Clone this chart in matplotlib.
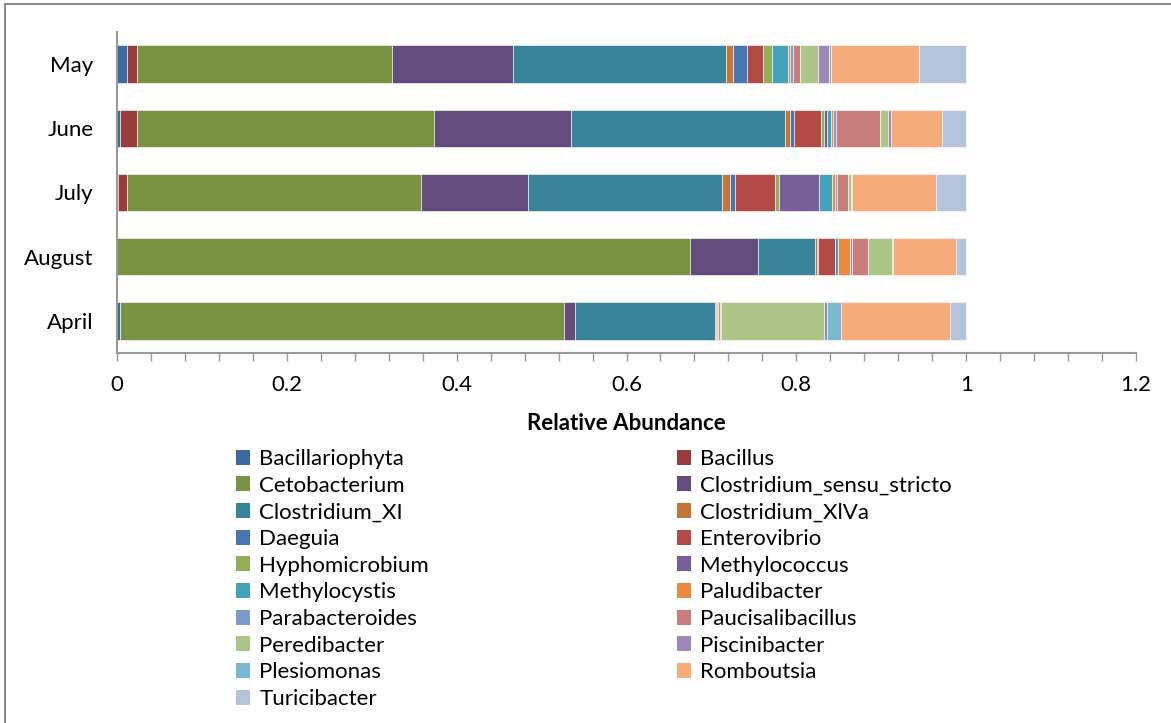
import matplotlib
matplotlib.use("Agg")
import matplotlib.pyplot as plt
import numpy as np
from matplotlib.patches import Patch, Rectangle
from matplotlib.ticker import MultipleLocator

plt.rcParams['font.family'] = ['Lato', 'DejaVu Sans']

# categories, bottom to top as drawn
months = ["April", "August", "July", "June", "May"]

genera = ["Bacillariophyta", "Bacillus", "Cetobacterium", "Clostridium_sensu_stricto",
          "Clostridium_XI", "Clostridium_XlVa", "Daeguia", "Enterovibrio",
          "Hyphomicrobium", "Methylococcus", "Methylocystis", "Paludibacter",
          "Parabacteroides", "Paucisalibacillus", "Peredibacter", "Piscinibacter",
          "Plesiomonas", "Romboutsia", "Turicibacter"]

colors = ["#3A6A9E", "#9A3C3C", "#7A9244", "#644C7D", "#38849A", "#C57634",
          "#4876B2", "#B24B48", "#92AF55", "#775E98", "#46A2BA", "#E8893D",
          "#7E9ACB", "#C97E7C", "#ADC687", "#9C89B6", "#7BB9D0", "#F7AB7A",
          "#B5C3DC"]

# relative abundance per genus (same order as genera)
april = [0.004, 0.0, 0.522, 0.013, 0.165, 0.001, 0.002, 0.001, 0.0, 0.0,
         0.0, 0.002, 0.001, 0.0, 0.122, 0.003, 0.017, 0.128, 0.019]
august = [0.0, 0.0, 0.675, 0.080, 0.067, 0.002, 0.002, 0.020, 0.0, 0.0,
          0.003, 0.014, 0.002, 0.019, 0.029, 0.0, 0.001, 0.074, 0.012]
july = [0.001, 0.011, 0.346, 0.126, 0.229, 0.009, 0.006, 0.047, 0.004, 0.048,
        0.015, 0.004, 0.002, 0.013, 0.003, 0.0, 0.001, 0.100, 0.035]
june = [0.004, 0.020, 0.349, 0.162, 0.252, 0.005, 0.005, 0.032, 0.003, 0.004,
        0.005, 0.002, 0.004, 0.052, 0.009, 0.003, 0.0, 0.060, 0.029]
may = [0.012, 0.012, 0.300, 0.142, 0.251, 0.008, 0.017, 0.019, 0.010, 0.0,
       0.019, 0.002, 0.004, 0.008, 0.021, 0.014, 0.002, 0.104, 0.055]

data = np.array([april, august, july, june, may])

W, H = 1171, 723
fig = plt.figure(figsize=(W / 100, H / 100), dpi=100)
ax = fig.add_axes([117 / W, (H - 353) / H, (1136 - 117) / W, (353 - 32) / H])

y = np.arange(len(months))
left = np.zeros(len(months))
for i, g in enumerate(genera):
    ax.barh(y, data[:, i], left=left, height=0.58, color=colors[i],
            edgecolor="white", linewidth=0.4, label=g)
    left += data[:, i]

ax.set_xlim(0, 1.2)
ax.set_ylim(-0.5, len(months) - 0.5)
ax.set_yticks(y)
ax.set_yticklabels(months)
ax.xaxis.set_major_locator(MultipleLocator(0.2))
ax.xaxis.set_minor_locator(MultipleLocator(0.04))
ax.xaxis.set_major_formatter(matplotlib.ticker.FuncFormatter(lambda v, p: f"{v:g}"))

for s in ["top", "right"]:
    ax.spines[s].set_visible(False)
for s in ["left", "bottom"]:
    ax.spines[s].set_color("#999999")
    ax.spines[s].set_linewidth(1.5)

fs = 16
ax.tick_params(axis="x", which="both", direction="out", length=6, color="#999999",
               width=1, labelsize=fs, pad=10)
ax.tick_params(axis="y", length=0, labelsize=fs, pad=17)

fig.text((117 + 1136) / 2 / W, 1 - 423 / H, "Relative Abundance", ha="center",
         va="center", fontsize=fs, fontweight="bold")

handles = [Patch(facecolor=c, edgecolor="none") for c in colors]
left_idx = list(range(0, len(genera), 2))
right_idx = list(range(1, len(genera), 2))
kw = dict(frameon=False, fontsize=fs, handlelength=0.65, handleheight=0.65,
          handletextpad=0.4, labelspacing=0.3, borderpad=0, borderaxespad=0,
          loc="upper left")
fig.legend([handles[i] for i in left_idx], [genera[i] for i in left_idx],
           bbox_to_anchor=(236 / W, 1 - 449 / H), **kw)
fig.legend([handles[i] for i in right_idx], [genera[i] for i in right_idx],
           bbox_to_anchor=(677 / W, 1 - 449 / H), **kw)

fig.add_artist(Rectangle((5.5 / W, -0.05), 1.1, (H - 4.5) / H + 0.05,
                         transform=fig.transFigure, fill=False,
                         edgecolor="#8c8c8c", linewidth=1.5))

fig.savefig("out.png", dpi=100)
